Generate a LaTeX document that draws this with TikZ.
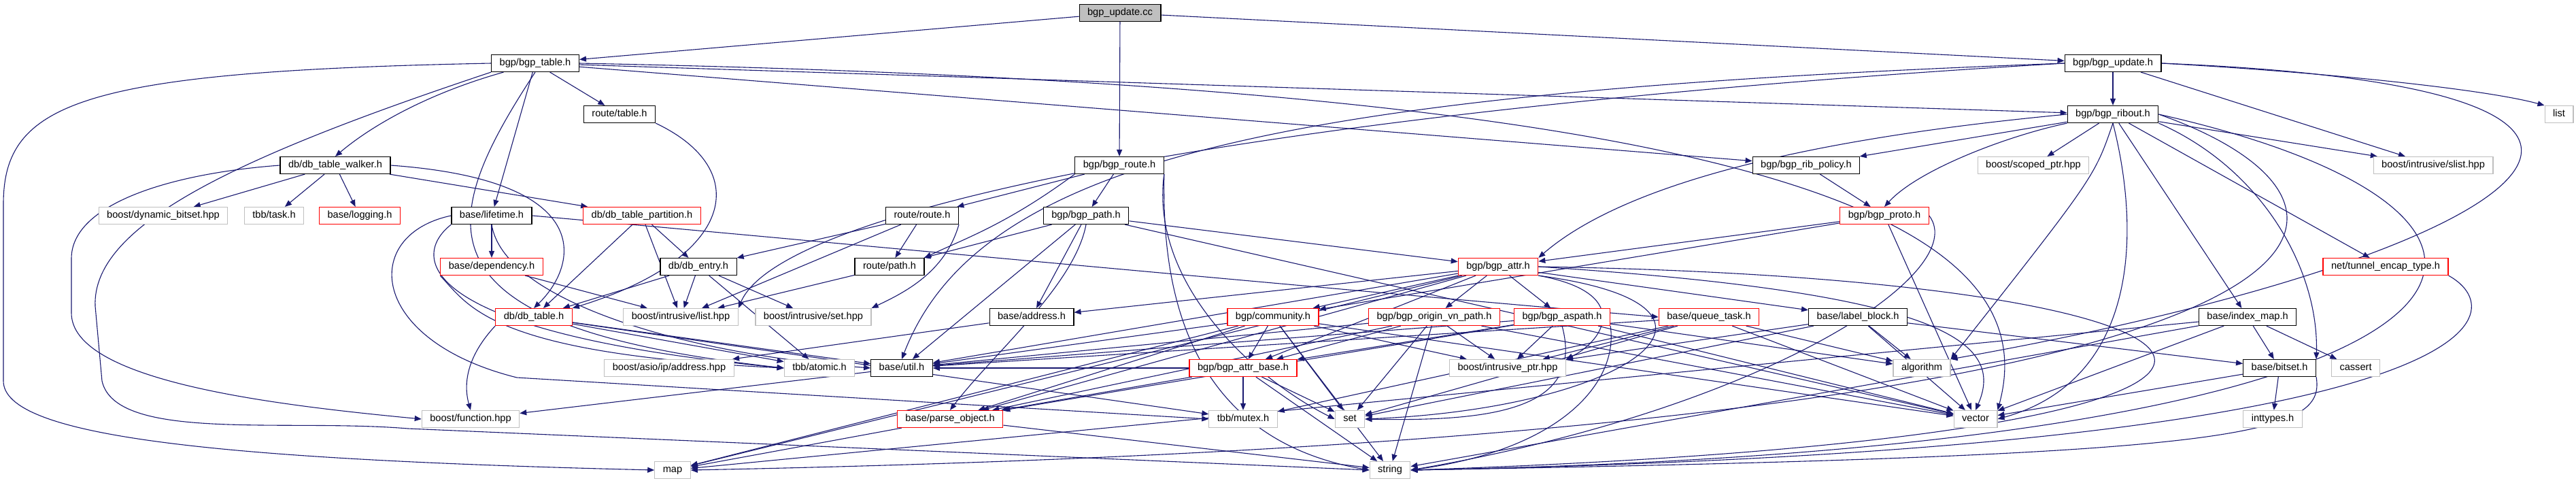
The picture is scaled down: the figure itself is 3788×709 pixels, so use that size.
\documentclass[tikz,border=0pt]{standalone}
\usepackage{fontspec}
\setsansfont{Liberation Sans}
\usetikzlibrary{arrows.meta, backgrounds}
\definecolor{cedge}{HTML}{191970}
\definecolor{cred}{HTML}{FF0000}
\definecolor{cgrey}{HTML}{BFBFBF}
\tikzset{
  every picture/.style={font=\sffamily\fontsize{7.3}{8.8}\selectfont, x=0.5pt, y=-0.5pt},
  box/.style={draw=#1, fill=white, line width=0.6pt, inner xsep=6pt, inner ysep=0pt, minimum height=12.5pt, text height=5.4pt, text depth=1.6pt},
  box/.default=black,
  doc/.style={box=black},
  trunc/.style={box=cred},
  ext/.style={box=cgrey},
  rootbox/.style={box=black, fill=cgrey},
  dep/.style={-{Triangle[length=5pt, width=4pt]}, draw=cedge, line width=0.55pt},
}
\begin{document}
\begin{tikzpicture}
  \useasboundingbox (0,0) rectangle (3788,709);
  % headers, row by row
  \node[rootbox] (upcc) at (1647,19) {bgp\_update.cc};
  \node[doc] (tbl) at (787,93) {bgp/bgp\_table.h};
  \node[doc] (upd) at (3107,93) {bgp/bgp\_update.h};
  \node[doc] (rtable) at (911,168) {route/table.h};
  \node[doc] (ribout) at (3107,168) {bgp/bgp\_ribout.h};
  \node[ext] (list) at (3763,168) {list};
  \node[doc] (walker) at (493,243) {db/db\_table\_walker.h};
  \node[doc] (route) at (1646,243) {bgp/bgp\_route.h};
  \node[doc] (policy) at (2656,243) {bgp/bgp\_rib\_policy.h};
  \node[ext] (scoped) at (2990,243) {boost/scoped\_ptr.hpp};
  \node[ext] (slist) at (3578,243) {boost/intrusive/slist.hpp};
  \node[ext] (dynbits) at (240,317) {boost/dynamic\_bitset.hpp};
  \node[ext] (task) at (403,317) {tbb/task.h};
  \node[trunc] (logging) at (529,317) {base/logging.h};
  \node[doc] (lifetime) at (723,317) {base/lifetime.h};
  \node[trunc] (partition) at (944,317) {db/db\_table\_partition.h};
  \node[doc] (rroute) at (1356,317) {route/route.h};
  \node[doc] (bgppath) at (1597,317) {bgp/bgp\_path.h};
  \node[trunc] (proto) at (2771,317) {bgp/bgp\_proto.h};
  \node[trunc] (depend) at (723,392) {base/dependency.h};
  \node[doc] (entry) at (1027,392) {db/db\_entry.h};
  \node[doc] (rpath) at (1308,392) {route/path.h};
  \node[trunc] (attr) at (2203,392) {bgp/bgp\_attr.h};
  \node[trunc] (tunnel) at (3508,392) {net/tunnel\_encap\_type.h};
  \node[trunc] (dbtable) at (785,466) {db/db\_table.h};
  \node[ext] (ilist) at (1001,466) {boost/intrusive/list.hpp};
  \node[ext] (iset) at (1196,466) {boost/intrusive/set.hpp};
  \node[doc] (address) at (1517,466) {base/address.h};
  \node[trunc] (community) at (1872,466) {bgp/community.h};
  \node[trunc] (originvn) at (2109,466) {bgp/bgp\_origin\_vn\_path.h};
  \node[trunc] (aspath) at (2297,466) {bgp/bgp\_aspath.h};
  \node[trunc] (queue) at (2513,466) {base/queue\_task.h};
  \node[doc] (label) at (2732,466) {base/label\_block.h};
  \node[doc] (indexmap) at (3305,466) {base/index\_map.h};
  \node[ext] (ipaddr) at (984,541) {boost/asio/ip/address.hpp};
  \node[ext] (atomic) at (1205,541) {tbb/atomic.h};
  \node[doc] (util) at (1326,541) {base/util.h};
  \node[trunc] (attrbase) at (1828,541) {bgp/bgp\_attr\_base.h};
  \node[ext] (iptr) at (2217,541) {boost/intrusive\_ptr.hpp};
  \node[ext] (algo) at (2826,541) {algorithm};
  \node[doc] (bitset) at (3352,541) {base/bitset.h};
  \node[ext] (cassert) at (3464,541) {cassert};
  \node[ext] (function) at (692,616) {boost/function.hpp};
  \node[trunc] (parse) at (1397,616) {base/parse\_object.h};
  \node[ext] (mutex) at (1828,616) {tbb/mutex.h};
  \node[ext] (set) at (1985,616) {set};
  \node[ext] (vector) at (2905,616) {vector};
  \node[ext] (inttypes) at (3342,616) {inttypes.h};
  \node[ext] (map) at (989,691) {map};
  \node[ext] (string) at (2044,691) {string};

  \begin{scope}[on background layer]
  % bgp_update.cc
  \draw[dep] (upcc) -- (tbl);
  \draw[dep] (upcc) -- (route);
  \draw[dep] (upcc) -- (upd);
  % bgp_table.h
  \draw[dep] (tbl.west) .. controls (120,105) and (5,150) .. (5,300) -- (5,560) .. controls (5,640) and (300,675) .. (map.west);
  \draw[dep] (tbl.south west) .. controls (350,230) and (135,330) .. (140,450) -- (150,560) .. controls (170,650) and (420,615) .. (600,630) -- (string.west);
  \draw[dep] (tbl) .. controls (620,140) and (540,190) .. (walker.north);
  \draw[dep] (tbl) -- (lifetime);
  \draw[dep] (tbl) -- (rtable);
  \draw[dep] (tbl.south) .. controls (640,330) and (600,480) .. (atomic.west);
  \draw[dep] (tbl) -- (ribout);
  \draw[dep] (tbl) -- (policy);
  \draw[dep] (tbl.east) .. controls (2500,125) and (3020,300) .. (vector.north east);
  % bgp_update.h
  \draw[dep] (upd) -- (ribout);
  \draw[dep] (upd.east) .. controls (3400,105) and (3650,130) .. (list.north west);
  \draw[dep] (upd) -- (slist);
  \draw[dep] (upd.east) .. controls (4100,130) and (3700,380) .. (algo.north east);
  \draw[dep] (upd.west) .. controls (1900,135) and (1441,230) .. (util.north);
  \draw[dep] (upd.west) .. controls (1900,160) and (1150,300) .. (ilist.north east);
  % route/table.h
  \draw[dep] (rtable.south east) .. controls (1110,250) and (1080,380) .. (dbtable.north east);
  % bgp_ribout.h
  \draw[dep] (ribout) -- (policy);
  \draw[dep] (ribout.south west) .. controls (2950,200) and (2820,250) .. (proto.north);
  \draw[dep] (ribout) -- (scoped);
  \draw[dep] (ribout) -- (slist);
  \draw[dep] (ribout.west) .. controls (2700,200) and (2400,260) .. (attr.north east);
  \draw[dep] (ribout) -- (tunnel);
  \draw[dep] (ribout) -- (indexmap);
  \draw[dep] (ribout.south east) .. controls (3330,250) and (3410,400) .. (bitset.north east);
  \draw[dep] (ribout.south) .. controls (3080,260) .. (algo.north east);
  \draw[dep] (ribout.south) .. controls (3150,350) and (3140,560) .. (vector.east);
  \draw[dep] (ribout.east) .. controls (3850,320) and (3750,660) .. (string.east);
  \draw[dep] (ribout.east) .. controls (3550,300) and (3600,640) .. (map.east);
  % bgp_rib_policy.h
  \draw[dep] (policy) -- (proto);
  % db_table_walker.h
  \draw[dep] (walker) -- (dynbits);
  \draw[dep] (walker) -- (task);
  \draw[dep] (walker) -- (logging);
  \draw[dep] (walker) -- (partition);
  \draw[dep] (walker.west) .. controls (250,255) and (105,300) .. (105,380) -- (105,460) .. controls (105,560) and (400,595) .. (function.west);
  \draw[dep] (walker.east) .. controls (880,265) and (850,390) .. (dbtable.north);
  % bgp_route.h
  \draw[dep] (route) -- (rroute);
  \draw[dep] (route) -- (bgppath);
  \draw[dep] (route.south west) .. controls (1480,330) and (1420,350) .. (rpath.north east);
  \draw[dep] (route.south east) .. controls (1690,420) and (1850,560) .. (set.west);
  \draw[dep] (route.south east) .. controls (1710,380) and (1720,640) .. (string.west);
  % base/lifetime.h
  \draw[dep] (lifetime) -- (depend);
  \draw[dep] (lifetime.west) .. controls (530,345) and (540,500) .. (760,555) -- (mutex.west);
  \draw[dep] (lifetime.south west) .. controls (600,380) and (620,490) .. (atomic.west);
  \draw[dep] (lifetime.east) .. controls (1100,345) and (1900,420) .. (queue.west);
  \draw[dep] (lifetime.south) .. controls (740,440) and (1000,520) .. (util.west);
  % db_table_partition.h
  \draw[dep] (partition) -- (entry);
  \draw[dep] (partition) -- (ilist);
  \draw[dep] (partition) -- (dbtable);
  % route/route.h
  \draw[dep] (rroute) -- (entry);
  \draw[dep] (rroute) -- (rpath);
  \draw[dep] (rroute) -- (ilist);
  \draw[dep] (rroute.south east) .. controls (1390,400) and (1330,430) .. (iset.north east);
  % bgp_path.h
  \draw[dep] (bgppath) -- (rpath);
  \draw[dep] (bgppath) -- (attr);
  \draw[dep] (bgppath) -- (vector);
  \draw[dep] (bgppath) -- (util);
  \draw[dep] (bgppath) -- (address);
  \draw[dep] (bgppath.south) .. controls (1580,420) and (1460,520) .. (parse.north);
  % bgp_proto.h
  \draw[dep] (proto) -- (attr);
  \draw[dep] (proto) -- (community);
  \draw[dep] (proto) -- (vector);
  \draw[dep] (proto.east) .. controls (2900,400) and (2600,600) .. (string.east);
  % base/dependency.h
  \draw[dep] (depend) -- (ilist);
  \draw[dep] (depend.south west) .. controls (690,450) and (720,520) .. (atomic.west);
  % db/db_entry.h
  \draw[dep] (entry) -- (ilist);
  \draw[dep] (entry) -- (iset);
  \draw[dep] (entry) -- (dbtable);
  \draw[dep] (entry) -- (atomic);
  % route/path.h
  \draw[dep] (rpath) -- (ilist);
  % bgp_attr.h
  \draw[dep] (attr) -- (community);
  \draw[dep] (attr) -- (originvn);
  \draw[dep] (attr) -- (aspath);
  \draw[dep] (attr) -- (label);
  \draw[dep] (attr) -- (address);
  \draw[dep] (attr) -- (util);
  \draw[dep] (attr) -- (attrbase);
  \draw[dep] (attr.south east) .. controls (2400,430) and (2360,500) .. (iptr.north east);
  \draw[dep] (attr.south east) .. controls (2600,450) and (2400,600) .. (set.east);
  \draw[dep] (attr.east) .. controls (2850,430) and (2950,500) .. (vector.north);
  \draw[dep] (attr.east) .. controls (3400,410) and (3600,640) .. (string.east);
  \draw[dep] (attr) -- (parse);
  \draw[dep] (attr) -- (map);
  % net/tunnel_encap_type.h
  \draw[dep] (tunnel.south east) .. controls (3700,460) and (3680,660) .. (string.east);
  % db/db_table.h
  \draw[dep] (dbtable.south west) .. controls (690,520) and (680,560) .. (function.north);
  \draw[dep] (dbtable) -- (atomic);
  \draw[dep] (dbtable) -- (util);
  \draw[dep] (dbtable) -- (mutex);
  % base/address.h
  \draw[dep] (address) -- (ipaddr);
  % bgp/community.h
  \draw[dep] (community) -- (attrbase);
  \draw[dep] (community) -- (util);
  \draw[dep] (community) -- (iptr);
  \draw[dep] (community) -- (parse);
  \draw[dep] (community) -- (set);
  \draw[dep] (community) -- (vector);
  \draw[dep] (community) -- (string);
  \draw[dep] (community) -- (map);
  % bgp_origin_vn_path.h
  \draw[dep] (originvn) -- (util);
  \draw[dep] (originvn) -- (iptr);
  \draw[dep] (originvn) -- (attrbase);
  \draw[dep] (originvn) -- (parse);
  \draw[dep] (originvn) -- (set);
  \draw[dep] (originvn) -- (vector);
  \draw[dep] (originvn) -- (string);
  % bgp_aspath.h
  \draw[dep] (aspath) -- (util);
  \draw[dep] (aspath) -- (iptr);
  \draw[dep] (aspath) -- (attrbase);
  \draw[dep] (aspath) -- (parse);
  \draw[dep] (aspath.south) .. controls (2330,600) and (2200,620) .. (set.east);
  \draw[dep] (aspath) -- (vector);
  \draw[dep] (aspath.south east) .. controls (2380,560) and (2300,660) .. (string.east);
  \draw[dep] (aspath) -- (algo);
  % base/queue_task.h
  \draw[dep] (queue) -- (util);
  \draw[dep] (queue) -- (iptr);
  \draw[dep] (queue) -- (algo);
  \draw[dep] (queue) -- (set);
  \draw[dep] (queue) -- (vector);
  \draw[dep] (queue) -- (mutex);
  % base/label_block.h
  \draw[dep] (label) -- (iptr);
  \draw[dep] (label) -- (algo);
  \draw[dep] (label) -- (bitset);
  \draw[dep] (label) -- (vector);
  \draw[dep] (label) -- (set);
  % base/index_map.h
  \draw[dep] (indexmap) -- (bitset);
  \draw[dep] (indexmap) -- (cassert);
  \draw[dep] (indexmap) -- (vector);
  \draw[dep] (indexmap) -- (map);
  \draw[dep] (indexmap) -- (string);
  % bgp_attr_base.h
  \draw[dep] (attrbase) -- (util);
  \draw[dep] (attrbase) -- (parse);
  \draw[dep] (attrbase) -- (mutex);
  \draw[dep] (attrbase) -- (set);
  \draw[dep] (attrbase) -- (string);
  % base/bitset.h
  \draw[dep] (bitset) -- (inttypes);
  \draw[dep] (bitset) -- (vector);
  \draw[dep] (bitset.south east) .. controls (3420,640) and (3300,670) .. (string.east);
  % base/util.h, base/parse_object.h
  \draw[dep] (util) -- (function);
  \draw[dep] (parse) -- (map);
  \draw[dep] (parse) -- (string);
  \end{scope}
\end{tikzpicture}
\end{document}
